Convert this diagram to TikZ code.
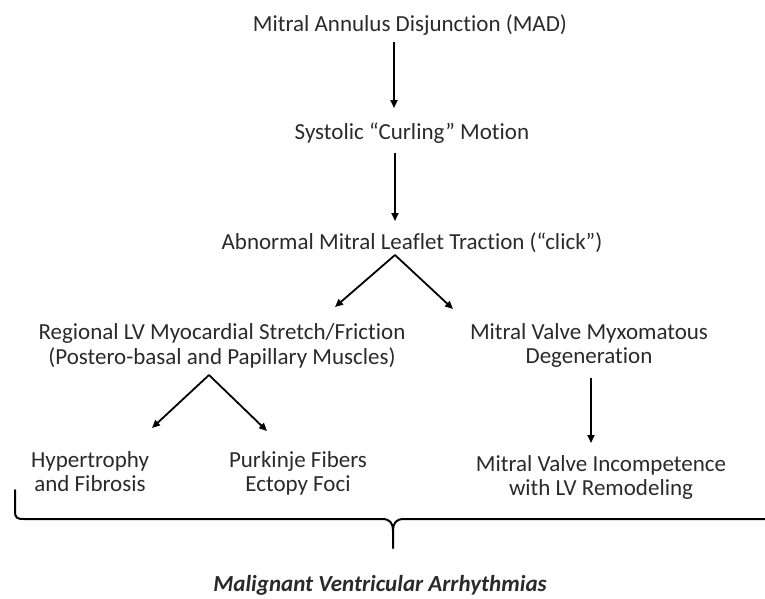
\documentclass[tikz,border=0pt]{standalone}
\usepackage{fontspec}
\setmainfont{Carlito}[Ligatures=NoCommon]
\usetikzlibrary{arrows.meta,calc}
\definecolor{txt}{HTML}{2A2A2A}
\begin{document}
\begin{tikzpicture}[x=1pt,y=-1pt,
  lbl/.style={inner sep=0pt,align=center,text=txt,font=\fontsize{23}{24}\selectfont},
  arr/.style={line width=1.8pt,-{Triangle[length=8pt,width=7pt]}},
  brace/.style={line width=2pt,line cap=round}]
\path[use as bounding box] (0,0) rectangle (765,598);
\node[lbl] (mad) at (410,27) {\strut Mitral Annulus Disjunction (MAD)};
\node[lbl] (curl) at (412,135) {\strut Systolic “Curling” Motion};
\node[lbl] (trac) at (412,245) {\strut Abnormal Mitral Leaflet Traction (“click”)};
\node[lbl] (lv) at (222,347) {\strut Regional LV Myocardial Stretch/Friction\\\strut (Postero-basal and Papillary Muscles)};
\node[lbl] (myx) at (589,347) {\strut Mitral Valve Myxomatous\\\strut Degeneration};
\node[lbl] (hyp) at (90,475) {\strut Hypertrophy\\\strut and Fibrosis};
\node[lbl] (purk) at (298,475) {\strut Purkinje Fibers\\\strut Ectopy Foci};
\node[lbl] (inc) at (601,479) {\strut Mitral Valve Incompetence\\\strut with LV Remodeling};
\node[lbl,font=\fontsize{23}{24}\selectfont\bfseries\itshape] (mva) at (380,585) {Malignant Ventricular Arrhythmias};
% arrows
\draw[arr] ($(mad.center)+(-16,15)$) -- ($(curl.center)+(-18,-27)$);
\draw[arr] ($(curl.center)+(-17,18)$) -- ($(trac.center)+(-17,-24)$);
\draw[arr] ($(trac.center)+(-17,10)$) -- ($(lv.center)+(113,-40)$);
\draw[arr] ($(trac.center)+(-17,10)$) -- ($(myx.center)+(-136,-38)$);
\draw[arr] ($(lv.center)+(-13,28)$) -- ($(hyp.center)+(62,-47)$);
\draw[arr] ($(lv.center)+(-13,28)$) -- ($(purk.center)+(-31,-44)$);
\draw[arr] ($(myx.center)+(2,31)$) -- ($(inc.center)+(-10,-36)$);
% brace
\coordinate (bl) at (15,490);
\coordinate (bt) at (393,548);
\coordinate (br) at (766,519);
\draw[brace] (bl) -- (15,511) .. controls (15,518) and (17,519) .. (24,519) -- (382,519)
  .. controls (390,519) and (393,523) .. (393,531) -- (bt);
\draw[brace] (br) -- (404,519) .. controls (396,519) and (393,523) .. (393,531);
\end{tikzpicture}
\end{document}
